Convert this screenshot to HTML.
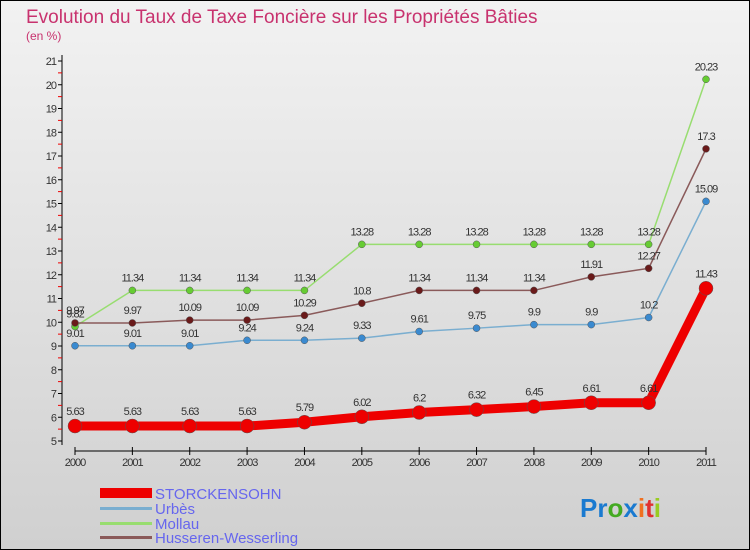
<!DOCTYPE html>
<html><head><meta charset="utf-8"><style>
body{margin:0;width:750px;height:550px;overflow:hidden;font-family:"Liberation Sans",sans-serif}
svg{display:block}
</style></head><body>
<svg id="c" width="750" height="550">
<defs><linearGradient id="bg" x1="0" y1="0" x2="0" y2="1"><stop offset="0" stop-color="#f2f2f2"/><stop offset="1" stop-color="#d0d0d0"/></linearGradient></defs>
<rect x="0.5" y="0.5" width="749" height="549" fill="url(#bg)" stroke="#000"/>
<text x="26" y="23" font-size="19" fill="#c8326e">Evolution du Taux de Taxe Foncière sur les Propriétés Bâties</text>
<text x="26" y="40" font-size="12" fill="#c8326e">(en %)</text>
<g id="axes"></g><g id="series"></g>
<g>
<rect x="100" y="488" width="52" height="10" fill="#e00"/>
<text x="155" y="499" font-size="15" fill="#6666ee">STORCKENSOHN</text>
<rect x="100" y="507" width="52" height="3" fill="#7aaed0"/>
<text x="155" y="514" font-size="15" fill="#6666ee">Urbès</text>
<rect x="100" y="522" width="52" height="3" fill="#98dd70"/>
<text x="155" y="529" font-size="15" fill="#6666ee">Mollau</text>
<rect x="100" y="536" width="52" height="3" fill="#8a5a5a"/>
<text x="155" y="543" font-size="15" fill="#6666ee">Husseren-Wesserling</text>
</g>
<text x="580" y="517" font-size="26" font-weight="bold"><tspan fill="#1a7ad0">Pr</tspan><tspan fill="#44aa22">o</tspan><tspan fill="#1a7ad0">x</tspan><tspan fill="#f07020">i</tspan><tspan fill="#e03030">t</tspan><tspan fill="#99cc22">i</tspan></text>
</svg>
<script>
const years=[2000,2001,2002,2003,2004,2005,2006,2007,2008,2009,2010,2011];
const storck=[5.63,5.63,5.63,5.63,5.79,6.02,6.2,6.32,6.45,6.61,6.61,11.43];
const urbes=[9.01,9.01,9.01,9.24,9.24,9.33,9.61,9.75,9.9,9.9,10.2,15.09];
const mollau=[9.82,11.34,11.34,11.34,11.34,13.28,13.28,13.28,13.28,13.28,13.28,20.23];
const husseren=[9.97,9.97,10.09,10.09,10.29,10.8,11.34,11.34,11.34,11.91,12.27,17.3];
const yTicks=[5,6,7,8,9,10,11,12,13,14,15,16,17,18,19,20,21];
const NS="http://www.w3.org/2000/svg";
const X=i=>75+i*(631/11);
const Y=v=>441-(v-5)*23.75;
function mk(tag,at,parent,txt){const e=document.createElementNS(NS,tag);for(const k in at)e.setAttribute(k,at[k]);if(txt!==undefined)e.textContent=txt;parent.appendChild(e);return e;}
const ax=document.getElementById('axes');
let l=mk('line',{x1:62,y1:55,x2:62,y2:445,stroke:'#000'},ax);


l=mk('line',{x1:75,y1:451,x2:706,y2:451,stroke:'#000'},ax);


yTicks.forEach(v=>{
 mk('line',{x1:58,y1:Y(v),x2:62,y2:Y(v),stroke:'#000'},ax);
 if(v<21)mk('line',{x1:58,y1:Y(v+0.5),x2:62,y2:Y(v+0.5),stroke:'#e00'},ax);
 const t=mk('text',{x:56,y:Y(v)+4,'font-size':11,fill:'#333','text-anchor':'end','letter-spacing':'-1'},ax,v);
 
 
});
years.forEach((y,i)=>{
 mk('line',{x1:X(i),y1:447,x2:X(i),y2:455,stroke:'#000'},ax);
 const t=mk('text',{x:X(i),y:466,'font-size':11,fill:'#333','text-anchor':'middle','letter-spacing':'-1'},ax,y);
 
 
});
const sg=document.getElementById('series');
function draw(name,vals,color,dot,w,r,lab){
 const g=mk('g',{},sg);
 
 
 mk('polyline',{points:vals.map((v,i)=>X(i)+','+Y(v)).join(' '),fill:'none',stroke:color,'stroke-width':w},g);
 vals.forEach((v,i)=>{
  const c=mk('circle',{cx:X(i),cy:Y(v),r:r,fill:dot,stroke:'#555','stroke-width':0.5},g);
  
  
  const t=mk('text',{x:X(i),y:Y(v)-lab,'font-size':11,fill:'#333','text-anchor':'middle','letter-spacing':'-1'},g,v);
  
  
 });
}
draw('urbes',urbes,'#7aaed0','#3a8ad0',1.5,3.5,9);
draw('mollau',mollau,'#98dd70','#66cc33',1.5,3.5,9);
draw('husseren',husseren,'#8a5a5a','#6a1a1a',1.5,3.5,9);
draw('storckensohn',storck,'#e00','#e00',9,7,11);
</script>
</body></html>
